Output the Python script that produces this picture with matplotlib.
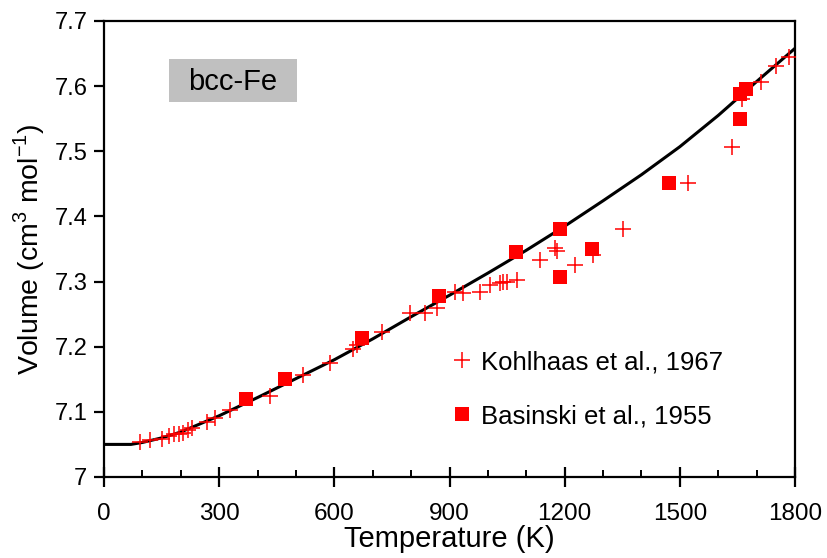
import matplotlib
matplotlib.use("Agg")
import matplotlib.pyplot as plt
from matplotlib.ticker import MultipleLocator
from matplotlib.patches import Rectangle

# Model curve
curve_T = [0, 70, 100, 150, 200, 300, 400, 500, 600, 700, 800, 900, 1000,
           1100, 1200, 1300, 1400, 1500, 1600, 1700, 1800]
curve_V = [7.050, 7.050, 7.053, 7.060, 7.069, 7.094, 7.122, 7.151, 7.180,
           7.212, 7.246, 7.279, 7.313, 7.348, 7.385, 7.424, 7.464, 7.507,
           7.555, 7.607, 7.658]

# Kohlhaas et al., 1967
kohl_T = [94, 120, 150, 168, 181, 194, 207, 220, 228, 267, 289, 328, 432, 519,
          589, 649, 658, 723, 797, 836, 867, 914, 936, 979, 1005, 1031, 1040,
          1049, 1075, 1136, 1175, 1179, 1227, 1275, 1353, 1522, 1635, 1663,
          1711, 1750, 1785]
kohl_V = [7.054, 7.056, 7.059, 7.063, 7.066, 7.066, 7.068, 7.072, 7.075, 7.085,
          7.090, 7.103, 7.124, 7.157, 7.175, 7.196, 7.203, 7.223, 7.252, 7.252,
          7.259, 7.284, 7.282, 7.284, 7.295, 7.298, 7.300, 7.300, 7.303, 7.333,
          7.351, 7.347, 7.325, 7.341, 7.380, 7.452, 7.507, 7.580, 7.607, 7.631,
          7.645]

# Basinski et al., 1955
bas_T = [371, 471, 671, 873, 1072, 1188, 1188, 1270, 1473, 1658, 1658, 1672]
bas_V = [7.120, 7.150, 7.213, 7.278, 7.345, 7.381, 7.307, 7.350, 7.452,
         7.549, 7.588, 7.595]

xticks = [0, 300, 600, 900, 1200, 1500, 1800]
yticks = [7.0, 7.1, 7.2, 7.3, 7.4, 7.5, 7.6, 7.7]
ytick_labels = ["7", "7.1", "7.2", "7.3", "7.4", "7.5", "7.6", "7.7"]

plt.rcParams['font.family'] = ['Liberation Sans', 'DejaVu Sans']
plt.rcParams['mathtext.fontset'] = 'custom'
plt.rcParams['mathtext.rm'] = 'Liberation Sans'

fig = plt.figure(figsize=(8.27, 5.58), dpi=100)
ax = fig.add_axes([0.1258, 0.1452, 0.9613 - 0.1258, 0.9624 - 0.1452])

ax.plot(curve_T, curve_V, color='black', lw=2.2, zorder=2)
ax.plot(kohl_T, kohl_V, linestyle='none', marker='+', color='#ff0000',
        markersize=11, markeredgewidth=1.1, zorder=3,
        label='Kohlhaas et al., 1967')
ax.plot(bas_T, bas_V, linestyle='none', marker='s', color='#ff0000',
        markersize=9.5, markeredgewidth=0, zorder=4,
        label='Basinski et al., 1955')

ax.set_xlim(0, 1800)
ax.set_ylim(7.0, 7.7)
ax.set_xticks(xticks)
ax.set_xticklabels([str(t) for t in xticks], fontsize=17.5)
ax.xaxis.set_minor_locator(MultipleLocator(100))
ax.set_yticks(yticks)
ax.set_yticklabels(ytick_labels, fontsize=17)

for s in ax.spines.values():
    s.set_linewidth(1.6)

ax.tick_params(axis='x', which='major', direction='inout', length=14,
               width=1.6, pad=12)
ax.tick_params(axis='x', which='minor', direction='in', length=5, width=1.4)
ax.tick_params(axis='y', which='major', direction='out', length=7,
               width=1.6, pad=5)

ax.set_xlabel('Temperature (K)', fontsize=21, labelpad=0)
ax.set_ylabel('Volume (cm$^{3}$ mol$^{-1}$)', fontsize=20.5, labelpad=5)

ax.add_patch(Rectangle((0.094, 0.822), 0.185, 0.095, transform=ax.transAxes,
                       facecolor='#c0c0c0', edgecolor='none', zorder=1))
ax.text(0.1865, 0.866, 'bcc-Fe', transform=ax.transAxes, fontsize=21,
        va='center', ha='center', zorder=2)

ax.legend(loc='upper left', bbox_to_anchor=(0.488, 0.30), frameon=False,
          fontsize=18.5, handlelength=0.8, handletextpad=0.35,
          labelspacing=1.15, borderaxespad=0)

fig.savefig('out.png', dpi=100)
